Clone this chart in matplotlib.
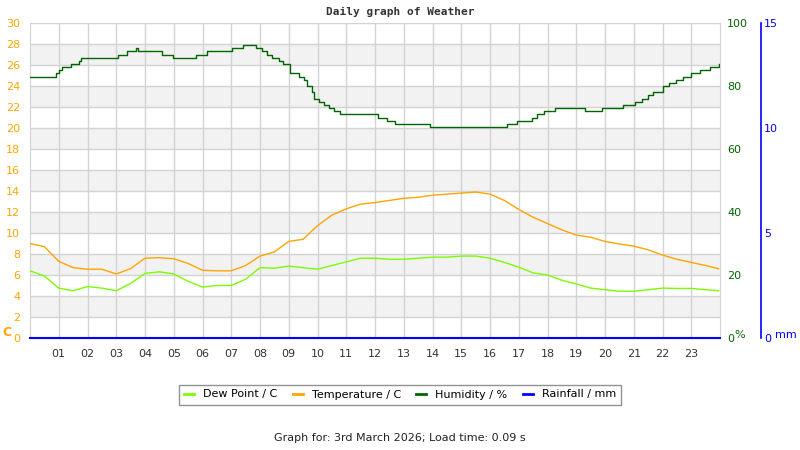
import numpy as np
from matplotlib import pyplot as plt

# half-hourly readings
hours = [0.0, 0.5, 1.0, 1.5, 2.0, 2.5, 3.0, 3.5, 4.0, 4.5, 5.0, 5.5, 6.0, 6.5, 7.0, 7.5,
         8.0, 8.5, 9.0, 9.5, 10.0, 10.5, 11.0, 11.5, 12.0, 12.5, 13.0, 13.5, 14.0, 14.5,
         15.0, 15.5, 16.0, 16.5, 17.0, 17.5, 18.0, 18.5, 19.0, 19.5, 20.0, 20.5, 21.0,
         21.5, 22.0, 22.5, 23.0, 23.5, 23.95]
temperature = [9.0, 8.7, 7.3, 6.7, 6.55, 6.55, 6.1, 6.6, 7.6, 7.65, 7.55, 7.1, 6.45, 6.4,
               6.4, 6.9, 7.8, 8.2, 9.2, 9.4, 10.7, 11.7, 12.3, 12.75, 12.9, 13.1, 13.3,
               13.4, 13.6, 13.7, 13.8, 13.9, 13.7, 13.1, 12.25, 11.5, 10.9, 10.3, 9.8,
               9.6, 9.2, 8.95, 8.75, 8.4, 7.9, 7.5, 7.2, 6.9, 6.6]
dew_point = [6.4, 5.9, 4.75, 4.5, 4.9, 4.75, 4.5, 5.2, 6.15, 6.3, 6.1, 5.4, 4.85, 5.0,
             5.0, 5.6, 6.7, 6.65, 6.85, 6.7, 6.55, 6.9, 7.25, 7.6, 7.6, 7.5, 7.5, 7.6,
             7.7, 7.7, 7.8, 7.8, 7.6, 7.2, 6.75, 6.2, 6.0, 5.5, 5.15, 4.75, 4.6, 4.45,
             4.45, 4.6, 4.75, 4.72, 4.72, 4.6, 4.5]
rainfall = [0.0] * len(hours)

# humidity changes in steps
hum_hours = [0.0, 0.9, 1.01, 1.13, 1.42, 1.71, 1.79, 3.06, 3.36, 3.67, 3.75, 4.6, 4.98,
             5.76, 6.16, 7.03, 7.41, 7.87, 8.07, 8.24, 8.42, 8.65, 8.8, 9.06, 9.35, 9.52,
             9.63, 9.81, 9.89, 10.04, 10.21, 10.39, 10.56, 10.79, 12.12, 12.4, 12.7,
             13.9, 16.58, 16.93, 17.45, 17.62, 17.87, 18.26, 19.3, 19.88, 20.63, 21.03,
             21.3, 21.5, 21.67, 22.02, 22.23, 22.48, 22.71, 23.0, 23.29, 23.64, 23.95]
humidity = [83, 84, 85, 86, 87, 88, 89, 90, 91, 92, 91, 90, 89, 90, 91, 92, 93, 92, 91,
            90, 89, 88, 87, 84, 83, 82, 80, 78, 76, 75, 74, 73, 72, 71, 70, 69, 68, 67,
            68, 69, 70, 71, 72, 73, 72, 73, 74, 75, 76, 77, 78, 80, 81, 82, 83, 84, 85,
            86, 87]

hour_labels = ['%02d' % h for h in range(1, 24)]

c_dew = '#7CFC00'
c_temp = '#FFA500'
c_hum = '#006400'
c_rain = '#0000FF'
grid_c = '#d3d3d3'

plt.rcParams['font.family'] = 'DejaVu Sans'
fig = plt.figure(figsize=(8, 4.5), dpi=100)
ax = fig.add_axes([30 / 800, 1 - 338 / 450, 690 / 800, 315 / 450])

for lo in range(2, 30, 4):
    ax.axhspan(lo, lo + 2, color='#f2f2f2', lw=0, zorder=0)

ax.set_xlim(0, 24)
ax.set_ylim(0, 30)
ax.set_yticks(range(0, 31, 2))
ax.set_xticks(range(1, 24))
ax.set_xticklabels(hour_labels)
ax.grid(True, color=grid_c, lw=1, zorder=1)
ax.set_axisbelow(True)
ax.tick_params(axis='y', length=0, pad=7, labelsize=8, labelcolor=c_temp)
ax.tick_params(axis='x', length=0, pad=8, labelsize=8, labelcolor='#333333')
for s in ax.spines.values():
    s.set_color(grid_c)

l_dew, = ax.plot(hours, dew_point, color=c_dew, lw=1, zorder=3)
l_temp, = ax.plot(hours, temperature, color=c_temp, lw=1, zorder=3)

ax2 = ax.twinx()
ax2.set_ylim(0, 100)
ax2.set_yticks(range(0, 101, 20))
ax2.tick_params(axis='y', length=0, pad=5, labelsize=8, labelcolor=c_hum)
for s in ax2.spines.values():
    s.set_visible(False)
l_hum, = ax2.step(hum_hours, humidity, where='post', color=c_hum, lw=1)

ax3 = ax.twinx()
ax3.set_ylim(0, 15)
ax3.set_yticks([0, 5, 10, 15])
ax3.spines['right'].set_position(('axes', 1 + 41 / 690))
for k in ['top', 'left', 'bottom']:
    ax3.spines[k].set_visible(False)
ax3.spines['right'].set_color(c_rain)
ax3.spines['right'].set_linewidth(1.2)
ax3.tick_params(axis='y', length=0, pad=2, labelsize=8, labelcolor=c_rain)
l_rain, = ax3.plot(hours + [24], rainfall + [0.0], color=c_rain, lw=1.5, clip_on=False)

fig.text(400 / 800, 1 - 12 / 450, 'Daily graph of Weather', ha='center', va='center',
         family='DejaVu Sans Mono', weight='bold', fontsize=8, color='#333333')
fig.text(7 / 800, 1 - 333 / 450, 'C', ha='center', va='center', fontsize=9,
         weight='bold', color=c_temp)
fig.text(740 / 800, 1 - 335 / 450, '%', ha='center', va='center', fontsize=8, color=c_hum)
fig.text(786 / 800, 1 - 335 / 450, 'mm', ha='center', va='center', fontsize=8, color=c_rain)

leg = fig.legend([l_dew, l_temp, l_hum, l_rain],
                 ['Dew Point / C', 'Temperature / C', 'Humidity / %', 'Rainfall / mm'],
                 loc='center', bbox_to_anchor=(400 / 800, 1 - 394.5 / 450), ncol=4,
                 fontsize=8, handlelength=0.9, handletextpad=0.8, columnspacing=1.4,
                 fancybox=False, edgecolor='#777777', borderpad=0.45)
leg.get_frame().set_linewidth(1)
for h in leg.get_lines():
    h.set_linewidth(2)

fig.text(400 / 800, 1 - 438 / 450, 'Graph for: 3rd March 2026; Load time: 0.09 s',
         ha='center', va='center', fontsize=8, color='#222222')

plt.savefig('out.png', dpi=100)
